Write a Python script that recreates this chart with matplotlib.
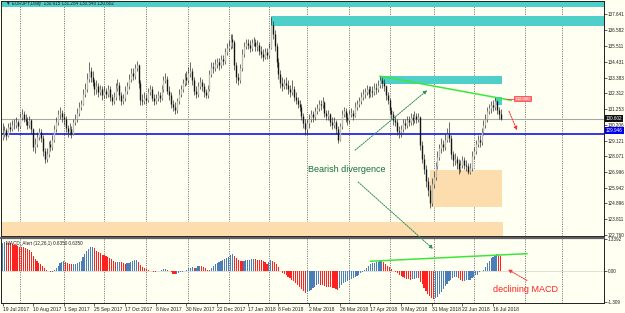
import numpy as np
import matplotlib
matplotlib.use("Agg")
import matplotlib.pyplot as plt
from matplotlib.patches import Rectangle
import matplotlib.transforms as mtransforms

plt.rcParams['font.family'] = ['Liberation Sans', 'DejaVu Sans']

# EURJPY daily bars, 19 Jul 2017 .. 20 Jul 2018 (open = previous close)
first_open = 129.40
close = [
    129.60, 129.85, 129.45, 130.05, 129.90, 130.20, 130.15, 130.35, 130.10, 130.70,
    130.95, 130.60, 130.45, 130.20, 130.50, 129.90, 128.70, 128.90, 129.40, 129.70,
    129.30, 128.40, 127.90, 128.20, 128.90, 128.70, 129.20, 129.90, 130.40, 130.90,
    131.00, 130.70, 130.60, 130.00, 129.70, 129.90, 129.60, 130.40, 130.60, 131.00,
    131.40, 131.60, 132.30, 132.60, 133.30, 133.80, 133.40, 133.10, 132.60, 132.80,
    132.40, 132.60, 132.20, 132.50, 132.30, 132.60, 132.10, 131.80, 132.10, 132.70,
    132.90, 132.20, 131.80, 132.00, 132.50, 132.80, 133.30, 133.70, 133.50, 134.00,
    134.20, 133.00, 131.90, 131.80, 132.00, 131.90, 132.40, 132.60, 132.00, 131.80,
    132.00, 132.20, 132.00, 132.60, 133.20, 133.30, 132.50, 132.20, 131.60, 131.40,
    131.20, 131.80, 132.30, 132.60, 133.00, 133.40, 133.20, 133.70, 133.80, 133.20,
    132.50, 132.30, 132.80, 133.10, 132.80, 132.40, 132.20, 132.60, 133.60, 134.10,
    134.00, 134.30, 134.40, 134.20, 134.60, 134.50, 135.10, 135.40, 135.50, 136.00,
    135.80, 134.20, 133.40, 133.20, 134.00, 135.00, 135.50, 135.70, 135.60, 135.40,
    135.70, 135.80, 135.50, 135.60, 135.20, 135.00, 134.80, 135.10, 134.90, 135.40,
    136.90, 136.30, 135.50, 134.40, 133.60, 133.00, 132.80, 133.00, 132.90, 132.60,
    132.40, 132.60, 132.10, 131.90, 131.60, 131.40, 130.80, 130.30, 129.90, 130.30,
    130.60, 130.90, 130.70, 131.10, 131.30, 131.60, 131.50, 131.70, 131.00, 130.80,
    130.90, 130.40, 130.20, 130.40, 129.90, 129.20, 130.10, 130.90, 131.10, 130.70,
    130.50, 130.90, 131.00, 130.80, 131.40, 131.60, 131.80, 132.10, 132.30, 132.40,
    132.60, 132.30, 132.50, 132.40, 132.70, 132.60, 132.90, 133.20, 133.00, 132.80,
    132.20, 131.90, 131.20, 130.90, 130.50, 130.40, 129.80, 129.70, 129.90, 130.30,
    130.20, 130.50, 130.40, 130.70, 130.50, 130.80, 130.60, 130.70, 128.80, 127.90,
    127.20, 126.40, 125.80, 124.90, 126.20, 126.70, 127.40, 128.00, 128.60, 128.90,
    128.70, 129.20, 129.60, 129.30, 128.20, 127.80, 127.90, 127.60, 127.20, 127.50,
    127.80, 127.50, 127.40, 127.00, 127.30, 128.10, 128.40, 128.90, 129.20, 129.00,
    129.70, 130.20, 130.60, 131.10, 131.30, 131.50, 131.40, 131.80, 131.20, 130.90,
    130.60,
]
high = [
    130.30, 130.10, 130.00, 130.30, 130.40, 130.50, 130.60, 130.70, 130.50, 131.00,
    131.25, 131.10, 130.90, 130.70, 130.80, 130.60, 130.00, 129.30, 129.70, 130.00,
    129.90, 129.50, 128.60, 128.60, 129.10, 129.20, 129.50, 130.20, 130.70, 131.20,
    131.40, 131.20, 131.00, 130.80, 130.20, 130.30, 130.10, 130.60, 130.90, 131.30,
    131.70, 131.90, 132.60, 133.00, 133.70, 134.40, 134.10, 133.80, 133.30, 133.20,
    133.00, 132.90, 132.80, 132.80, 132.70, 132.90, 132.80, 132.30, 132.40, 133.00,
    133.30, 133.10, 132.40, 132.30, 132.80, 133.10, 133.60, 134.00, 134.00, 134.30,
    134.50, 134.30, 133.20, 132.30, 132.40, 132.30, 132.70, 132.90, 132.80, 132.30,
    132.30, 132.50, 132.40, 132.90, 133.50, 133.70, 133.50, 132.80, 132.40, 131.90,
    131.70, 132.00, 132.60, 132.90, 133.30, 133.70, 133.80, 134.10, 134.40, 134.00,
    133.40, 132.80, 133.10, 133.40, 133.30, 133.00, 132.60, 132.90, 133.90, 134.40,
    134.40, 134.60, 134.70, 134.70, 134.90, 134.90, 135.40, 135.70, 135.90, 136.30,
    136.30, 135.90, 134.40, 133.70, 134.30, 135.30, 135.80, 136.00, 136.00, 135.90,
    136.00, 136.10, 136.00, 135.90, 135.80, 135.50, 135.30, 135.40, 135.40, 135.70,
    137.50, 137.20, 136.60, 135.70, 134.70, 133.90, 133.40, 133.30, 133.40, 133.20,
    132.90, 133.20, 132.80, 132.40, 132.10, 131.90, 131.60, 131.00, 130.60, 130.60,
    130.90, 131.20, 131.10, 131.40, 131.60, 131.90, 131.90, 132.10, 131.80, 131.20,
    131.20, 131.00, 130.70, 130.70, 130.50, 130.10, 130.30, 131.20, 131.40, 131.30,
    131.00, 131.20, 131.30, 131.20, 131.70, 131.90, 132.10, 132.40, 132.60, 132.70,
    132.90, 132.80, 132.80, 132.80, 133.00, 133.00, 133.20, 133.50, 133.45, 133.30,
    132.90, 132.40, 132.00, 131.40, 131.10, 130.80, 130.60, 130.10, 130.20, 130.60,
    130.60, 130.80, 130.80, 131.00, 130.90, 131.10, 131.00, 131.00, 130.80, 129.10,
    128.20, 127.50, 126.70, 126.10, 126.60, 127.10, 127.70, 128.40, 128.90, 129.30,
    129.20, 129.60, 130.00, 130.35, 129.50, 128.40, 128.30, 128.10, 127.90, 127.80,
    128.10, 128.00, 127.80, 127.60, 127.60, 128.40, 128.70, 129.20, 129.50, 129.50,
    130.00, 130.50, 130.90, 131.40, 131.60, 131.80, 131.90, 132.05, 131.90, 131.40,
    131.28,
]
low = [
    129.20, 129.40, 129.20, 129.35, 129.70, 129.75, 129.90, 130.00, 129.80, 130.00,
    130.50, 130.40, 130.20, 129.90, 130.00, 129.60, 128.40, 128.30, 128.70, 129.20,
    129.00, 128.10, 127.60, 127.70, 128.00, 128.40, 128.50, 129.00, 129.70, 130.20,
    130.60, 130.40, 130.20, 129.70, 129.40, 129.50, 129.30, 129.50, 130.20, 130.40,
    130.80, 131.20, 131.50, 132.10, 132.40, 133.10, 133.10, 132.80, 132.20, 132.30,
    132.10, 132.20, 131.90, 132.00, 132.00, 132.10, 131.80, 131.50, 131.60, 131.90,
    132.50, 131.90, 131.50, 131.60, 131.80, 132.30, 132.60, 133.10, 133.20, 133.30,
    133.80, 132.70, 131.50, 131.50, 131.60, 131.60, 131.70, 132.20, 131.80, 131.50,
    131.60, 131.80, 131.70, 131.90, 132.40, 133.00, 132.30, 131.90, 131.30, 131.10,
    130.90, 131.00, 131.60, 132.10, 132.40, 132.80, 132.90, 133.00, 133.40, 132.90,
    132.20, 132.00, 132.10, 132.60, 132.50, 132.10, 132.00, 132.00, 132.50, 133.40,
    133.70, 133.80, 134.00, 133.90, 134.00, 134.20, 134.30, 134.90, 135.20, 135.30,
    135.40, 133.90, 133.00, 132.90, 133.00, 133.80, 134.80, 135.30, 135.30, 135.10,
    135.20, 135.50, 135.20, 135.20, 134.90, 134.70, 134.50, 134.60, 134.60, 134.70,
    135.30, 136.00, 135.20, 134.10, 133.30, 132.70, 132.50, 132.60, 132.60, 132.30,
    132.10, 132.20, 131.80, 131.60, 131.30, 131.10, 130.50, 130.00, 129.50, 129.60,
    130.00, 130.40, 130.40, 130.50, 130.90, 131.10, 131.20, 131.30, 130.70, 130.50,
    130.50, 130.10, 129.90, 130.00, 129.60, 128.95, 129.10, 129.90, 130.70, 130.40,
    130.20, 130.30, 130.70, 130.50, 130.70, 131.20, 131.40, 131.60, 131.90, 132.00,
    132.20, 132.00, 132.10, 132.10, 132.20, 132.30, 132.40, 132.70, 132.70, 132.50,
    131.90, 131.60, 130.90, 130.60, 130.20, 130.10, 129.50, 129.30, 129.40, 129.70,
    129.90, 130.00, 130.10, 130.20, 130.20, 130.30, 130.30, 130.40, 128.50, 127.60,
    126.90, 126.00, 125.40, 124.60, 124.70, 125.90, 126.50, 127.20, 127.80, 128.30,
    128.40, 128.50, 129.00, 129.00, 127.90, 127.40, 127.50, 127.20, 126.90, 127.00,
    127.30, 127.20, 127.10, 126.90, 126.90, 127.10, 127.90, 128.20, 128.70, 128.70,
    128.80, 129.50, 130.00, 130.40, 130.90, 131.00, 131.10, 131.20, 130.90, 130.60,
    130.54,
]
# MACD_Alert (12,26,1) histogram
macd = [
    1.20, 1.22, 1.20, 1.19, 1.18, 1.15, 1.12, 1.10, 1.06, 1.04,
    1.02, 1.00, 0.96, 0.92, 0.88, 0.80, 0.65, 0.52, 0.44, 0.36,
    0.30, 0.22, 0.12, 0.05, 0.00, -0.05, -0.03, 0.05, 0.12, 0.24,
    0.34, 0.38, 0.41, 0.40, 0.35, 0.31, 0.29, 0.30, 0.32, 0.35,
    0.37, 0.45, 0.60, 0.72, 0.84, 0.95, 1.00, 1.04, 0.98, 0.86,
    0.80, 0.76, 0.70, 0.67, 0.64, 0.60, 0.57, 0.50, 0.42, 0.37,
    0.38, 0.40, 0.39, 0.33, 0.31, 0.33, 0.35, 0.38, 0.42, 0.46,
    0.47, 0.40, 0.28, 0.18, 0.12, 0.08, 0.04, 0.01, 0.00, -0.02,
    -0.03, 0.00, 0.02, 0.05, 0.09, 0.10, 0.07, 0.03, -0.04, -0.10,
    -0.12, -0.11, -0.07, -0.05, -0.03, 0.00, 0.06, 0.12, 0.15, 0.16,
    0.14, 0.15, 0.20, 0.24, 0.22, 0.18, 0.12, 0.05, 0.04, 0.15,
    0.24, 0.30, 0.34, 0.38, 0.42, 0.47, 0.52, 0.57, 0.62, 0.68,
    0.71, 0.66, 0.56, 0.46, 0.42, 0.41, 0.43, 0.46, 0.48, 0.49,
    0.51, 0.51, 0.50, 0.49, 0.48, 0.46, 0.42, 0.37, 0.32, 0.38,
    0.47, 0.45, 0.38, 0.30, 0.16, 0.02, -0.06, -0.12, -0.18, -0.24,
    -0.30, -0.35, -0.40, -0.48, -0.58, -0.68, -0.76, -0.84, -0.92, -0.88,
    -0.84, -0.78, -0.72, -0.66, -0.60, -0.56, -0.58, -0.60, -0.63, -0.65,
    -0.66, -0.68, -0.70, -0.72, -0.76, -0.78, -0.70, -0.60, -0.50, -0.45,
    -0.40, -0.36, -0.32, -0.28, -0.24, -0.20, -0.14, -0.08, -0.02, 0.06,
    0.14, 0.22, 0.30, 0.33, 0.35, 0.37, 0.39, 0.41, 0.42, 0.38,
    0.32, 0.24, 0.16, 0.08, 0.02, -0.04, -0.08, -0.14, -0.20, -0.24,
    -0.28, -0.32, -0.34, -0.36, -0.34, -0.31, -0.29, -0.30, -0.44, -0.56,
    -0.70, -0.84, -0.96, -1.06, -1.15, -1.17, -1.14, -1.10, -0.98, -0.86,
    -0.76, -0.64, -0.52, -0.42, -0.36, -0.30, -0.25, -0.23, -0.30, -0.38,
    -0.43, -0.40, -0.38, -0.37, -0.36, -0.30, -0.24, -0.18, -0.14, -0.05,
    0.00, 0.06, 0.18, 0.36, 0.45, 0.54, 0.61, 0.66, 0.71, 0.67,
    0.635,
]

date_labels = ['19 Jul 2017', '10 Aug 2017', '1 Sep 2017', '25 Sep 2017', '17 Oct 2017',
               '8 Nov 2017', '30 Nov 2017', '22 Dec 2017', '17 Jan 2018', '8 Feb 2018',
               '2 Mar 2018', '26 Mar 2018', '17 Apr 2018', '9 May 2018', '31 May 2018',
               '22 Jun 2018', '16 Jul 2018']
date_step = 16
month_starts = [9, 32, 53, 75, 97, 118, 139, 159, 181, 202, 225, 246, 272.5, 292]
price_ticks = [137.641, 136.582, 135.511, 134.431, 133.383, 132.312, 131.253, 130.206,
               129.121, 128.071, 126.996, 125.942, 124.896, 123.811, 122.760]
macd_ticks = [1.3392, 0.0, -1.309]
macd_tick_labels = ['1.3392', '0.00', '-1.309']

last_ohlc = (130.915, 131.284, 130.540, 130.602)
blue_level = 129.56
blue_label = 129.946
blue_label_at = 129.80

# zones: (first bar, last bar, low price, high price)
supply_zones = [(-2, 320, 138.17, 138.51), (140, 320, 136.84, 137.51),
                (197, 260.7, 132.93, 133.47), (257, 260.7, 131.51, 132.05)]
demand_zones = [(223, 260.7, 124.64, 127.14), (-2, 261, 122.0, 123.64)]
trend_price = [(197, 133.47), (265.4, 131.85)]
trend_macd = [(192, 0.42), (273.7, 0.74)]

bg = '#FFFFF2'
teal = '#4ECFCA'
peach = '#FDDDAE'
lime = '#3CE63C'
dgreen = '#2E8B63'

close = np.array(close)
high = np.array(high)
low = np.array(low)
macd = np.array(macd)
opn = np.r_[first_open, close[:-1]]
idx = np.arange(len(close))

fig = plt.figure(figsize=(6.25, 3.13), dpi=100, facecolor=bg)
W, H = 625, 313
ax = fig.add_axes([0.5 / W, 1 - 236 / H, 603.5 / W, 235.5 / H], facecolor=bg)
axm = fig.add_axes([0.5 / W, 1 - 303 / H, 603.5 / W, 65 / H], facecolor=bg)

xlim = (-1.05, 313.9)
for a in (ax, axm):
    a.set_xlim(*xlim)
    for s in a.spines.values():
        s.set_color('#202020')
        s.set_linewidth(0.7)
    for m in month_starts:
        a.axvline(m, color='#555555', lw=0.6, ls=(0, (1.2, 1.6)), zorder=1)

ax.set_ylim(122.69, 138.58)
axm.set_ylim(-1.34, 1.40)
axm.spines['top'].set_linewidth(1.6)
axm.spines['top'].set_color('#606060')

# zones
for x0, x1, p0, p1 in supply_zones:
    ax.add_patch(Rectangle((x0, p0), x1 - x0, p1 - p0, color=teal, lw=0, zorder=2))
for x0, x1, p0, p1 in demand_zones:
    ax.add_patch(Rectangle((x0, p0), x1 - x0, p1 - p0, color=peach, lw=0, zorder=2))

# horizontal levels
ax.axhline(last_ohlc[3], color='#A8A8A8', lw=0.8, zorder=2)
ax.axhline(blue_level, color='#0000EE', lw=1.1, zorder=2)

# candles
up = close >= opn
ax.vlines(idx, low, high, color='#303030', lw=0.5, zorder=3)
ax.vlines(idx[up], opn[up], close[up], color='#BDBDB5', lw=1.0, zorder=4)
ax.vlines(idx[~up], close[~up], opn[~up], color='#151515', lw=1.0, zorder=4)

# trend lines
ax.plot(*zip(*trend_price), color=lime, lw=1.1, zorder=5)
axm.plot(*zip(*trend_macd), color=lime, lw=1.1, zorder=5)

# MACD histogram
rising = np.r_[True, np.diff(macd) >= 0]
colors = np.where(rising, '#4A7EB8', '#FF2020')
axm.bar(idx, macd, width=0.6, color=colors, lw=0, zorder=3)
axm.axhline(0, color='#C8C8C8', lw=0.4, zorder=2)

# arrows
dotted = dict(arrowstyle='-|>', linestyle=(0, (1.5, 1.2)), lw=0.7,
              mutation_scale=5, shrinkA=0, shrinkB=0)
ax.annotate('', xy=(221.6, 132.52), xytext=(184, 128.48),
            arrowprops=dict(color=dgreen, **dotted), zorder=6)
axm.annotate('', xy=(224.7, 0.94), xytext=(185.6, 126.33), textcoords=ax.transData,
             arrowprops=dict(color=dgreen, **dotted), annotation_clip=False, zorder=6)
ax.annotate('', xy=(268.5, 129.83), xytext=(264.3, 131.11),
            arrowprops=dict(color='#FF2A2A', **dotted), zorder=6)
axm.annotate('', xy=(263.8, 0.07), xytext=(273.7, -0.39),
             arrowprops=dict(color='#FF2A2A', **dotted), zorder=6)

ax.text(159.5, 127.2, 'Bearish divergence', color='#17703A', fontsize=6.5,
        va='center', ha='left', zorder=7)
axm.text(256, -0.76, 'declining MACD', color='#FF2020', fontsize=6.5,
         va='center', ha='left', zorder=7)

# red price label at end of trend line
ax.plot([263, 267], [131.95, 131.95], color='#FF4040', lw=0.6, zorder=6)
ax.text(267.3, 131.95, '132.000', fontsize=3.2, color='white', va='center', ha='left',
        bbox=dict(boxstyle='square,pad=0.15', fc='#FF8080', ec='#FF3030', lw=0.5), zorder=7)

# headers
ax.text(2, 138.36, '\u25bc EURJPY,Daily  %.3f %.3f %.3f %.3f' % last_ohlc,
        fontsize=3.3, color='#202020', va='center', ha='left', zorder=7)
axm.text(2, 1.18, 'MACD_Alert (12,26,1) %.4f %.4f' % (macd[-1], macd[-1]),
         fontsize=3.3, color='#202020', va='center', ha='left', zorder=7)

# price axis
ax.yaxis.tick_right()
ax.set_yticks(price_ticks)
ax.set_yticklabels(['%.3f' % p for p in price_ticks])
ax.tick_params(axis='y', length=2, width=0.5, pad=1, labelsize=3.3, colors='#202020')
ax.set_xticks([])
rt = mtransforms.blended_transform_factory(ax.transAxes, ax.transData)
ax.text(1.003, last_ohlc[3], '%.3f' % last_ohlc[3], transform=rt, fontsize=3.3,
        color='white', va='center', ha='left', zorder=8,
        bbox=dict(boxstyle='square,pad=0.2', fc='#101010', ec='none'))
ax.text(1.003, blue_label_at, '%.3f' % blue_label, transform=rt, fontsize=3.3,
        color='white', va='center', ha='left', zorder=8,
        bbox=dict(boxstyle='square,pad=0.2', fc='#0000EE', ec='none'))

axm.yaxis.tick_right()
axm.set_yticks(macd_ticks)
axm.set_yticklabels(macd_tick_labels)
axm.tick_params(axis='y', length=2, width=0.5, pad=1, labelsize=3.3, colors='#202020')

axm.set_xticks(np.arange(len(date_labels)) * date_step)
axm.set_xticklabels(date_labels, ha='left')
axm.tick_params(axis='x', length=2, width=0.5, pad=1, labelsize=3.6, colors='#202020')

fig.savefig('out.png', dpi=100, facecolor=bg)
